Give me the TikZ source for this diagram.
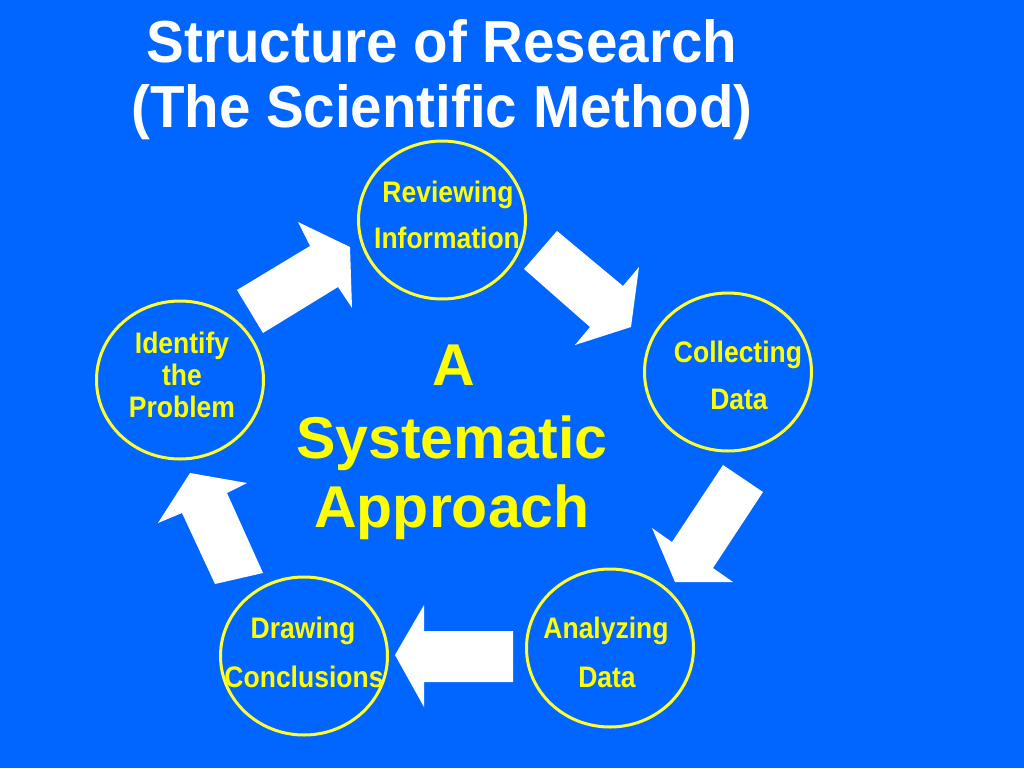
\documentclass[tikz,border=0pt]{standalone}
\usepackage{fontspec}
\setmainfont{Liberation Sans}
\usepackage{xcolor}
\usetikzlibrary{shapes.geometric}
\usetikzlibrary{positioning}
\definecolor{bgblue}{RGB}{0,102,255}
\definecolor{ringyellow}{RGB}{255,255,51}
\definecolor{txtyellow}{RGB}{255,255,0}

\begin{document}
\begin{tikzpicture}[x=1pt,y=-1pt,
	stage/.style={ellipse, draw=ringyellow, line width=3pt, minimum width=167pt, minimum height=158pt, inner sep=0pt},
	steptext/.style={anchor=base, inner sep=0pt, text=txtyellow, yscale=1.12, transform shape, font=\fontsize{26.5pt}{30pt}\selectfont\bfseries},
	bigtext/.style={anchor=base, inner sep=0pt, text=txtyellow, font=\fontsize{59pt}{66pt}\selectfont\bfseries},
	titletext/.style={anchor=base, inner sep=0pt, text=white, yscale=1.05, transform shape, font=\fontsize{56.5pt}{64pt}\selectfont\bfseries},
	blockarrow/.style={fill=white}]
			% background
			\fill[bgblue] (0,0) rectangle (1024,768);
			\useasboundingbox (0,0) rectangle (1024,768);
			% title
			\node[titletext] (title1) at (442,63) {Structure of Research};
			\node[titletext] (title2) at (442,127) {(The Scientific Method)};
			% draw circles
			\node[stage] (rev) at (442,220) {};
			\node[stage] (col) at (728,372) {};
			\node[stage] (ana) at (610,648) {};
			\node[stage] (drw) at (304,656) {};
			\node[stage] (idf) at (180,380) {};
			% circle texts
			\node[steptext] (rev1) at (448,202) {Reviewing};
			\node[steptext] (rev2) at (447,248) {Information};
			\node[steptext] (col1) at (738,362) {Collecting};
			\node[steptext] (col2) at (739,409) {Data};
			\node[steptext] (ana1) at (606,638) {Analyzing};
			\node[steptext] (ana2) at (607,687) {Data};
			\node[steptext] (drw1) at (303,638) {Drawing};
			\node[steptext] (drw2) at (304,687) {Conclusions};
			\node[steptext] (idf1) at (182,353) {Identify};
			\node[steptext] (idf2) at (182,385) {the};
			\node[steptext] (idf3) at (182,417) {Problem};
			% middle text
			\node[bigtext] (mid1) at (454,385) {A};
			\node[bigtext] (mid2) at (452,458) {Systematic};
			\node[bigtext] (mid3) at (452,527) {Approach};
			% block arrows
			\fill[blockarrow] (237,290) -- (310,246) -- (298,222) -- (350,247) -- (352,308) -- (338,287) -- (263,333) -- cycle;
			\fill[blockarrow] (557,231) -- (623,286) -- (639,267) -- (631,327) -- (575,345) -- (590,327) -- (524,269) -- cycle;
			\fill[blockarrow] (723,465) -- (763,492) -- (713,568) -- (733,582) -- (675,582) -- (652,528) -- (672,542) -- cycle;
			\fill[blockarrow] (513,631) -- (513,682) -- (424,682) -- (424,707) -- (395,655) -- (424,605) -- (424,631) -- cycle;
			\fill[blockarrow] (263,573) -- (215,584) -- (182,513) -- (158,523) -- (190,473) -- (247,483) -- (227,493) -- cycle;
\end{tikzpicture}
\end{document}
